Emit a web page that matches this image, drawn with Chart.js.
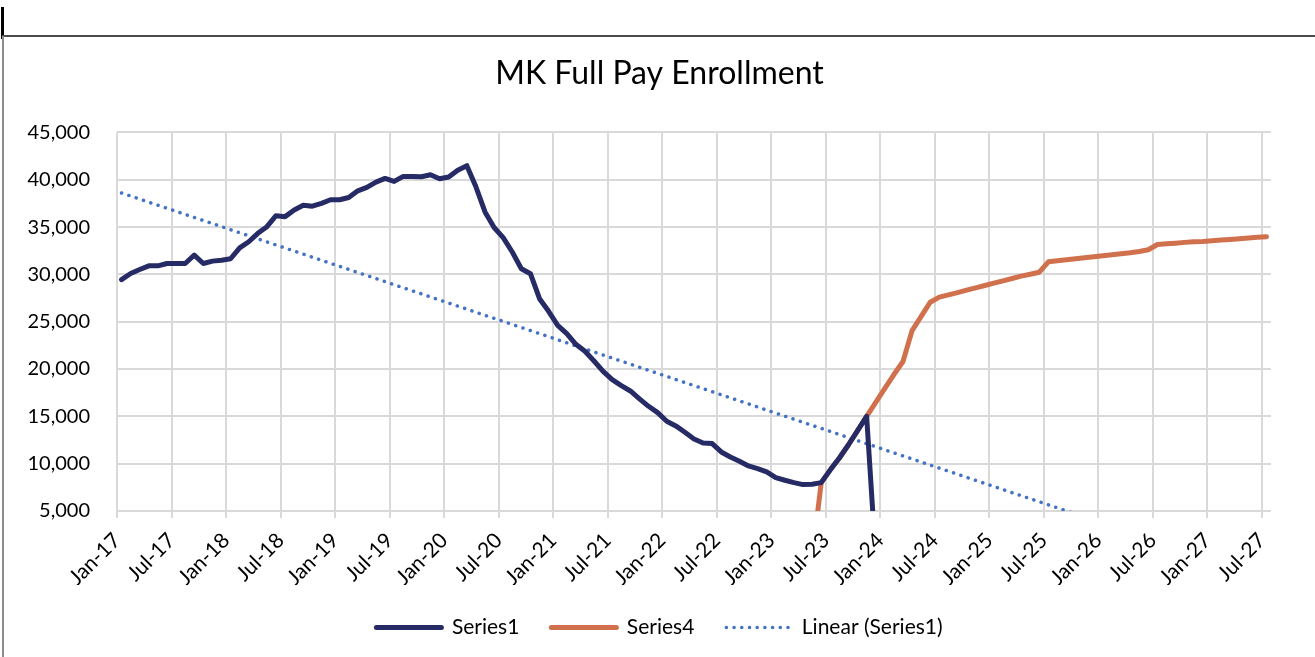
<!DOCTYPE html>
<html>
<head>
<meta charset="utf-8">
<title>MK Full Pay Enrollment</title>
<script src="https://cdn.jsdelivr.net/npm/chart.js@4.4.1/dist/chart.umd.min.js"></script>
<style>
  html, body { margin: 0; padding: 0; background: #fff; }
  #wrap { position: relative; width: 1315px; height: 657px; overflow: hidden; }
  #enrollmentChart { position: absolute; left: 0; top: 0; }
  .edge { position: absolute; }
</style>
</head>
<body>
<div id="wrap">
  <canvas id="enrollmentChart" width="1315" height="657"></canvas>
  <div class="edge" style="left:1px;top:7px;width:3px;height:32px;background:#000"></div>
  <div class="edge" style="left:2px;top:35px;right:0;height:2px;background:#4d4d4d"></div>
  <div class="edge" style="left:2px;top:36px;bottom:0;width:2px;background:#8c8c8c"></div>
</div>
<script>
// month labels, Jan-17 .. Aug-27 (one per month)
var monthNames = ['Jan','Feb','Mar','Apr','May','Jun','Jul','Aug','Sep','Oct','Nov','Dec'];
var months = [];
for (var i = 0; i < 128; i++) {
    months.push(monthNames[i % 12] + '-' + (17 + Math.floor(i / 12)));
}

// Series1, monthly from Jan-17
var series1 = [
    29450, 30090, 30510, 30900, 30900, 31150, 31150, 31150, 32030, 31150, 31400, 31500,
    31650, 32800, 33450, 34340, 35040, 36200, 36100, 36800, 37300, 37200, 37500, 37880,
    37880, 38120, 38830, 39190, 39750, 40140, 39820, 40350, 40350, 40320, 40530, 40100,
    40280, 41000, 41480, 39250, 36600, 34950, 33880, 32360, 30600, 30070, 27430, 26100,
    24620, 23740, 22610, 21870, 20850, 19760, 18880, 18250, 17680, 16840, 16060, 15390,
    14480, 13990, 13320, 12610, 12190, 12120, 11240, 10710, 10250, 9760, 9480, 9130,
    8530, 8250, 8000, 7790, 7830, 8000, 9350, 10600, 12000, 13500, 15000, 0
];

// Series4, monthly from May-23
var series4From = 76;
var series4 = [
    0, 8000, 9350, 10600, 12000, 13500, 15000, 16470, 17950, 19420, 20800, 24060,
    25560, 27060, 27590, 27830, 28080, 28330, 28580, 28820, 29070, 29320, 29560, 29810,
    30020, 30230, 31330, 31430, 31540, 31650, 31750, 31860, 31960, 32070, 32180, 32280,
    32420, 32600, 33160, 33230, 33300, 33380, 33450, 33480, 33550, 33620, 33690, 33760,
    33840, 33910, 33980
];

// Linear (Series1) trendline, value at Jan-17 and at Jul-27
var trendMonths = [0, 126];
var trendValues = [38600, -2100];

var yTicks = [5000, 45000, 5000]; // min, max, step

function toPoints(values, from) {
    return values.map(function (v, i) { return {x: from + i + 0.5, y: v}; });
}

Chart.defaults.font.family = 'Lato, "Open Sans", sans-serif';
Chart.defaults.color = '#000';

var ctx = document.getElementById('enrollmentChart').getContext('2d');
var enrollmentChart = new Chart(ctx, {
    type: 'line',
    data: {
        datasets: [{
            label: 'Series1',
            data: toPoints(series1, 0),
            borderColor: '#262B65',
            backgroundColor: '#262B65',
            borderWidth: 5,
            borderCapStyle: 'round',
            borderJoinStyle: 'round',
            pointRadius: 0,
            tension: 0,
            clip: 0
        },{
            label: 'Series4',
            data: toPoints(series4, series4From),
            borderColor: '#D0704C',
            backgroundColor: '#D0704C',
            borderWidth: 5,
            borderCapStyle: 'round',
            borderJoinStyle: 'round',
            pointRadius: 0,
            tension: 0,
            clip: 0
        },{
            label: 'Linear (Series1)',
            data: trendMonths.map(function (m, i) { return {x: m + 0.5, y: trendValues[i]}; }),
            borderColor: '#4472C4',
            backgroundColor: '#4472C4',
            borderWidth: 3.5,
            borderDash: [0.1, 7.6],
            borderCapStyle: 'round',
            pointRadius: 0,
            clip: 0
        }]
    },
    options: {
        responsive: false,
        animation: false,
        layout: {
            padding: {left: 24, right: 20, top: 0, bottom: 9}
        },
        plugins: {
            title: {
                display: true,
                text: 'MK Full Pay Enrollment',
                color: '#000',
                font: {size: 32, weight: 'normal'},
                padding: {top: 54, bottom: 40}
            },
            legend: {
                position: 'bottom',
                labels: {
                    usePointStyle: true,
                    pointStyle: 'line',
                    pointStyleWidth: 65,
                    padding: 32,
                    color: '#000',
                    font: {size: 21},
                    generateLabels: function (chart) {
                        var items = Chart.defaults.plugins.legend.labels.generateLabels(chart);
                        items.forEach(function (item) {
                            var ds = chart.data.datasets[item.datasetIndex];
                            item.lineDash = ds.borderDash || [];
                            item.lineCap = ds.borderCapStyle;
                            item.lineWidth = ds.borderWidth;
                        });
                        return items;
                    }
                }
            },
            tooltip: {enabled: false}
        },
        scales: {
            x: {
                type: 'linear',
                min: 0,
                max: 127,
                afterFit: function (scale) { scale.height = 74; },
                border: {display: false},
                grid: {color: '#d9d9d9', lineWidth: 2, tickLength: 7},
                ticks: {
                    stepSize: 6,
                    includeBounds: false,
                    autoSkip: false,
                    minRotation: 45,
                    maxRotation: 45,
                    padding: 10,
                    color: '#000',
                    font: {size: 21},
                    callback: function (value) {
                        return value % 6 === 0 ? months[value] : '';
                    }
                }
            },
            y: {
                min: yTicks[0],
                max: yTicks[1],
                afterFit: function (scale) { scale.width = 93; },
                border: {display: false},
                grid: {color: '#d9d9d9', lineWidth: 2, drawTicks: false},
                ticks: {
                    stepSize: yTicks[2],
                    padding: 27,
                    color: '#000',
                    font: {size: 20},
                    callback: function (value) { return value.toLocaleString('en-US'); }
                }
            },
            // empty right-hand spacer so title and legend centre like the original
            spacer: {
                position: 'right',
                min: yTicks[0],
                max: yTicks[1],
                afterFit: function (scale) { scale.width = 24; },
                border: {display: false},
                grid: {display: false},
                ticks: {display: false}
            }
        }
    }
});
</script>
</body>
</html>
